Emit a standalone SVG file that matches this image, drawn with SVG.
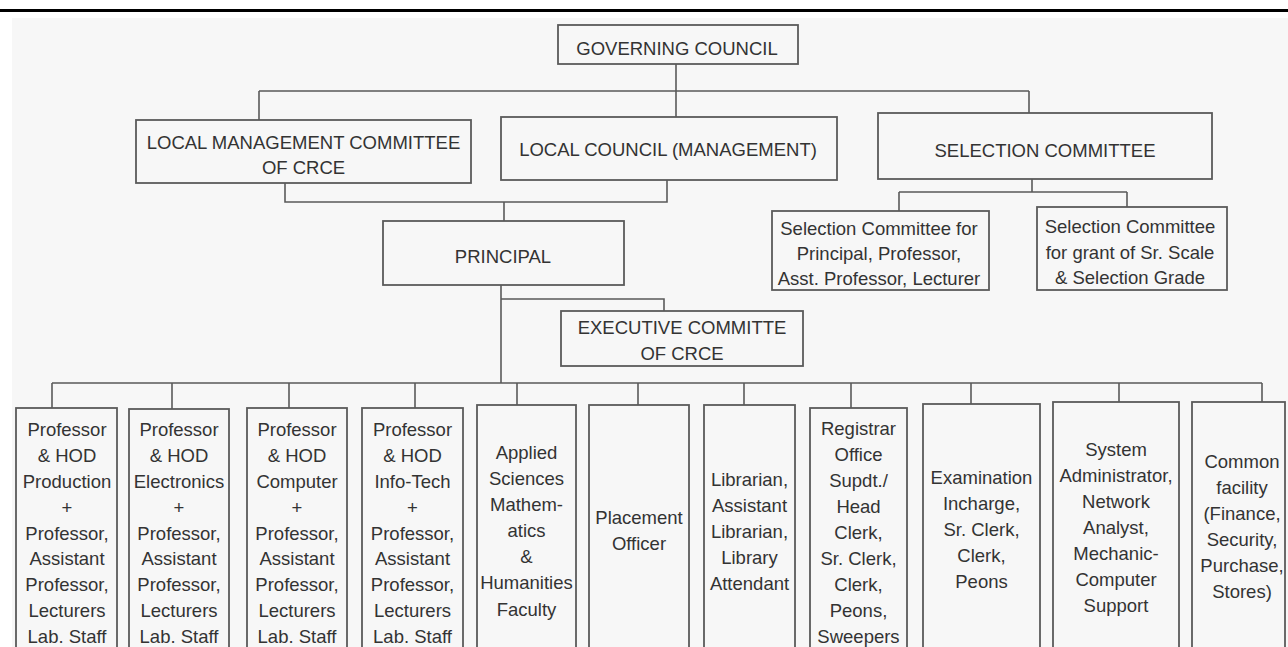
<svg xmlns="http://www.w3.org/2000/svg" width="1288" height="647" viewBox="0 0 1288 647">
<style>
.box{fill:#f7f7f7;stroke:#5a5a5a;stroke-width:1.8}
.conn{fill:none;stroke:#5a5a5a;stroke-width:1.6}
text{font-family:"Liberation Sans",Arial,sans-serif;font-size:18.5px;fill:#333;text-anchor:middle}
</style>
<rect x="0" y="0" width="1288" height="647" fill="#ffffff"/>
<rect x="12" y="18" width="1276" height="629" fill="#f7f7f7"/>
<rect x="0" y="9" width="1288" height="3" fill="#000"/>

<g id="connectors">
<path class="conn" d="M676,64V117M259,91H1029M259,91V120M1029,91V113"/>
<path class="conn" d="M285,183V202H667V180M504,202V221"/>
<path class="conn" d="M1032,179V192M899,192H1127M899,192V211M1127,192V207"/>
<path class="conn" d="M501,285V383M501,299H664V311"/>
<path class="conn" d="M52,383H1262M52,383V408M172,383V409M289,383V408M415,383V408M517,383V405M638,383V405M744,383V405M851,383V408M971,383V404M1119,383V402M1262,383V402"/>
</g>

<g id="governing"><rect class="box" x="558" y="25" width="240" height="39"/><text x="677" y="54.5">GOVERNING COUNCIL</text></g>
<g id="lmc"><rect class="box" x="136" y="120" width="335" height="63"/><text x="303.5" y="148.5">LOCAL MANAGEMENT COMMITTEE</text><text x="303.5" y="173.5">OF CRCE</text></g>
<g id="localcouncil"><rect class="box" x="501" y="117" width="336" height="63"/><text x="668" y="155.5">LOCAL COUNCIL (MANAGEMENT)</text></g>
<g id="selection"><rect class="box" x="878" y="113" width="334" height="66"/><text x="1045" y="156.5">SELECTION COMMITTEE</text></g>
<g id="sel1"><rect class="box" x="772" y="211" width="217" height="79"/><text><tspan x="879" y="234.5">Selection Committee for</tspan><tspan x="879" y="259.5">Principal, Professor,</tspan><tspan x="879" y="284.5">Asst. Professor, Lecturer</tspan></text></g>
<g id="sel2"><rect class="box" x="1037" y="207" width="190" height="83"/><text><tspan x="1130" y="232.5">Selection Committee</tspan><tspan x="1130" y="258.5">for grant of Sr. Scale</tspan><tspan x="1130" y="283.5">&amp; Selection Grade</tspan></text></g>
<g id="principal"><rect class="box" x="383" y="221" width="241" height="64"/><text x="503" y="262.5">PRINCIPAL</text></g>
<g id="executive"><rect class="box" x="561" y="311" width="242" height="55"/><text x="682" y="333.5">EXECUTIVE COMMITTE</text><text x="682" y="359.5">OF CRCE</text></g>

<g id="production"><rect class="box" x="16" y="408" width="101" height="260"/><text><tspan x="67" y="435.5">Professor</tspan><tspan x="67" y="461.5">&amp; HOD</tspan><tspan x="67" y="487.5">Production</tspan><tspan x="67" y="513.5">+</tspan><tspan x="67" y="539.5">Professor,</tspan><tspan x="67" y="564.5">Assistant</tspan><tspan x="67" y="590.5">Professor,</tspan><tspan x="67" y="616.5">Lecturers</tspan><tspan x="67" y="642.5">Lab. Staff</tspan></text></g>
<g id="electronics"><rect class="box" x="129" y="409" width="100" height="260"/><text><tspan x="179" y="435.5">Professor</tspan><tspan x="179" y="461.5">&amp; HOD</tspan><tspan x="179" y="487.5">Electronics</tspan><tspan x="179" y="513.5">+</tspan><tspan x="179" y="539.5">Professor,</tspan><tspan x="179" y="564.5">Assistant</tspan><tspan x="179" y="590.5">Professor,</tspan><tspan x="179" y="616.5">Lecturers</tspan><tspan x="179" y="642.5">Lab. Staff</tspan></text></g>
<g id="computer"><rect class="box" x="247" y="408" width="100" height="260"/><text><tspan x="297" y="435.5">Professor</tspan><tspan x="297" y="461.5">&amp; HOD</tspan><tspan x="297" y="487.5">Computer</tspan><tspan x="297" y="513.5">+</tspan><tspan x="297" y="539.5">Professor,</tspan><tspan x="297" y="564.5">Assistant</tspan><tspan x="297" y="590.5">Professor,</tspan><tspan x="297" y="616.5">Lecturers</tspan><tspan x="297" y="642.5">Lab. Staff</tspan></text></g>
<g id="infotech"><rect class="box" x="362" y="408" width="101" height="260"/><text><tspan x="412.5" y="435.5">Professor</tspan><tspan x="412.5" y="461.5">&amp; HOD</tspan><tspan x="412.5" y="487.5">Info-Tech</tspan><tspan x="412.5" y="513.5">+</tspan><tspan x="412.5" y="539.5">Professor,</tspan><tspan x="412.5" y="564.5">Assistant</tspan><tspan x="412.5" y="590.5">Professor,</tspan><tspan x="412.5" y="616.5">Lecturers</tspan><tspan x="412.5" y="642.5">Lab. Staff</tspan></text></g>
<g id="appliedsciences"><rect class="box" x="477" y="405" width="99" height="260"/><text><tspan x="526.5" y="458.5">Applied</tspan><tspan x="526.5" y="484.5">Sciences</tspan><tspan x="526.5" y="510.5">Mathem-</tspan><tspan x="526.5" y="536.5">atics</tspan><tspan x="526.5" y="562.5">&amp;</tspan><tspan x="526.5" y="588.5">Humanities</tspan><tspan x="526.5" y="615.5">Faculty</tspan></text></g>
<g id="placement"><rect class="box" x="589" y="405" width="100" height="260"/><text><tspan x="639" y="523.5">Placement</tspan><tspan x="639" y="549.5">Officer</tspan></text></g>
<g id="library"><rect class="box" x="704" y="405" width="91" height="260"/><text><tspan x="749.5" y="485.5">Librarian,</tspan><tspan x="749.5" y="511.5">Assistant</tspan><tspan x="749.5" y="537.5">Librarian,</tspan><tspan x="749.5" y="563.5">Library</tspan><tspan x="749.5" y="589.5">Attendant</tspan></text></g>
<g id="registrar"><rect class="box" x="810" y="408" width="97" height="260"/><text><tspan x="858.5" y="434.5">Registrar</tspan><tspan x="858.5" y="460.5">Office</tspan><tspan x="858.5" y="486.5">Supdt./</tspan><tspan x="858.5" y="512.5">Head</tspan><tspan x="858.5" y="538.5">Clerk,</tspan><tspan x="858.5" y="564.5">Sr. Clerk,</tspan><tspan x="858.5" y="590.5">Clerk,</tspan><tspan x="858.5" y="616.5">Peons,</tspan><tspan x="858.5" y="642.5">Sweepers</tspan></text></g>
<g id="examination"><rect class="box" x="923" y="404" width="117" height="260"/><text><tspan x="981.5" y="483.5">Examination</tspan><tspan x="981.5" y="509.5">Incharge,</tspan><tspan x="981.5" y="535.5">Sr. Clerk,</tspan><tspan x="981.5" y="561.5">Clerk,</tspan><tspan x="981.5" y="587.5">Peons</tspan></text></g>
<g id="sysadmin"><rect class="box" x="1053" y="402" width="126" height="260"/><text><tspan x="1116" y="455.5">System</tspan><tspan x="1116" y="481.5">Administrator,</tspan><tspan x="1116" y="507.5">Network</tspan><tspan x="1116" y="533.5">Analyst,</tspan><tspan x="1116" y="559.5">Mechanic-</tspan><tspan x="1116" y="585.5">Computer</tspan><tspan x="1116" y="611.5">Support</tspan></text></g>
<g id="commonfacility"><rect class="box" x="1192" y="402" width="93" height="260"/><text><tspan x="1242" y="467.5">Common</tspan><tspan x="1242" y="493.5">facility</tspan><tspan x="1242" y="519.5">(Finance,</tspan><tspan x="1242" y="545.5">Security,</tspan><tspan x="1242" y="571.5">Purchase,</tspan><tspan x="1242" y="597.5">Stores)</tspan></text></g>
</svg>
